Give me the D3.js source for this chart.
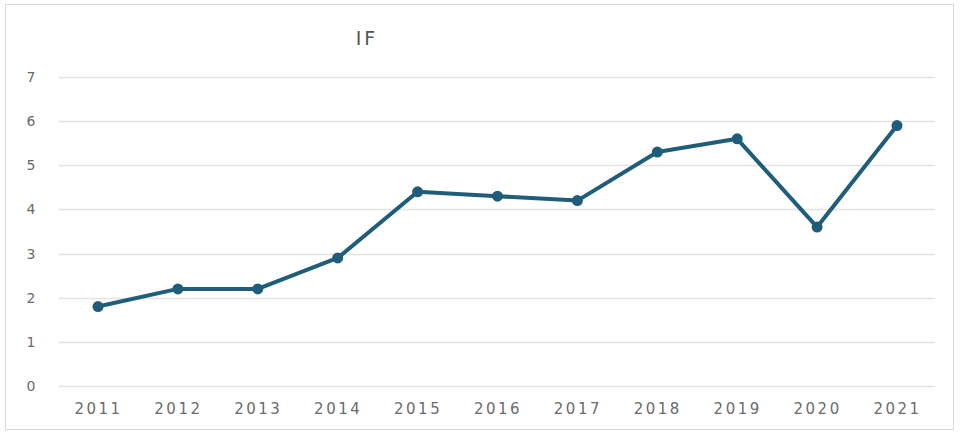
<!DOCTYPE html>
<html><head><meta charset="utf-8">
<script src="https://cdn.jsdelivr.net/npm/d3@7"></script>
<style>body{margin:0;background:#fff;} svg{display:block;}</style>
</head><body>
<svg id="c" width="962" height="432"></svg>
<script>
const categories = ["2011","2012","2013","2014","2015","2016","2017","2018","2019","2020","2021"];
const values = [1.8, 2.2, 2.2, 2.9, 4.4, 4.3, 4.2, 5.3, 5.6, 3.6, 5.9];
const yTicks = [0,1,2,3,4,5,6,7];
const title = "IF";

const svg = d3.select("#c");
svg.append("rect").attr("x",5.5).attr("y",4.5).attr("width",948).attr("height",425)
  .attr("fill","#fff").attr("stroke","#d9d9d9").attr("stroke-width",1);

const x = d3.scalePoint().domain(categories).range([98, 897]);
const y = d3.scaleLinear().domain([0,7]).range([386, 77]);

const gx0 = 58, gx1 = 935;
const grid = svg.append("g");
yTicks.forEach(t => {
  grid.append("line").attr("x1",gx0).attr("x2",gx1).attr("y1",Math.round(y(t))+0.5).attr("y2",Math.round(y(t))+0.5)
    .attr("stroke","#e3e3e3").attr("stroke-width",1.5);
});

const yAxis = d3.axisLeft(y).tickValues(yTicks).tickFormat(d3.format("d")).tickSize(0).tickPadding(0);
const ga = svg.append("g").attr("transform","translate(31,0)").call(yAxis);
ga.select(".domain").remove();
ga.selectAll("text").attr("text-anchor","middle").attr("font-family","DejaVu Sans").attr("font-size",14).attr("fill","#6b6b6b");

const xAxis = d3.axisBottom(x).tickSize(0).tickPadding(0);
const gb = svg.append("g").attr("transform","translate(0,403)").call(xAxis);
gb.select(".domain").remove();
gb.selectAll("text").attr("font-family","DejaVu Sans").attr("font-size",15).attr("fill","#6b6b6b")
  .attr("letter-spacing","2.5px");

svg.append("text").attr("x",367).attr("y",45).attr("text-anchor","middle")
  .attr("font-family","DejaVu Sans").attr("font-size",19).attr("fill","#555")
  .attr("letter-spacing","3px").text(title);

const line = d3.line().x((d,i)=>x(categories[i])).y(d=>y(d));
svg.append("path").datum(values).attr("d",line).attr("fill","none")
  .attr("stroke","#1f5d7b").attr("stroke-width",4).attr("stroke-linejoin","round");
svg.selectAll("circle.p").data(values).join("circle").attr("class","p")
  .attr("cx",(d,i)=>x(categories[i])).attr("cy",d=>y(d)).attr("r",5.5).attr("fill","#1f5d7b");
</script>
</body></html>
